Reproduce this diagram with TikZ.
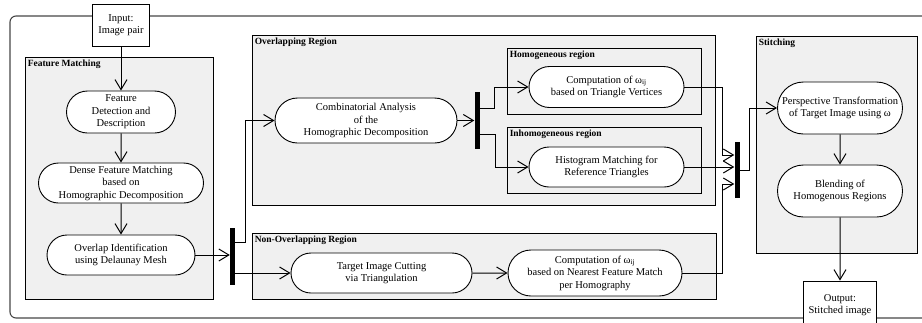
\documentclass[tikz,border=0pt]{standalone}
\usepackage{fontspec}
\setmainfont{Liberation Serif}
\definecolor{regiongray}{RGB}{240,240,240}
\definecolor{framegray}{RGB}{70,70,70}
\usetikzlibrary{arrows.meta, shapes.misc}

\begin{document}
\begin{tikzpicture}[
  x=1pt, y=-1pt,
  region/.style={draw, fill=regiongray, line width=0.9pt, inner sep=0pt},
  regionlabel/.style={anchor=north west, inner sep=3pt, font=\fontsize{9.5}{11}\selectfont\bfseries},
  activity/.style={draw, rounded rectangle, fill=white, line width=0.9pt, inner sep=1pt, align=center, font=\fontsize{10.5}{12.5}\selectfont},
  iobox/.style={draw, fill=white, line width=0.9pt, inner sep=1pt, align=center, font=\fontsize{10.5}{12.5}\selectfont},
  fork/.style={fill=black, minimum width=5pt, inner sep=0pt},
  arrow/.style={-{Straight Barb[length=10pt, width=12pt]}, line width=1pt}
]
  \useasboundingbox (0,0) rectangle (922,322);
  \clip (0,0) rectangle (922,322);

  % Outer frame (runs past the right edge)
  \draw[framegray, line width=1.1pt, rounded corners=6pt] (10,16) rectangle (940,318);

  % Input and output boxes
  \node[iobox, minimum width=57, minimum height=42] (input) at (121,25) {Input:\\Image pair};
  \node[iobox, minimum width=73, minimum height=48] (output) at (840,305) {Output:\\Stitched image};

  % Regions
  \node[region, minimum width=188, minimum height=242] (fmreg) at (119,178) {};
  \node[regionlabel] at (fmreg.north west) {Feature Matching};
  \node[region, minimum width=463, minimum height=170] (ovreg) at (483.5,120) {};
  \node[regionlabel] at (ovreg.north west) {Overlapping Region};
  \node[region, minimum width=194, minimum height=66] (homreg) at (604,81) {};
  \node[regionlabel] at (homreg.north west) {Homogeneous region};
  \node[region, minimum width=194, minimum height=66] (inhreg) at (604,160) {};
  \node[regionlabel] at (inhreg.north west) {Inhomogeneous region};
  \node[region, minimum width=464, minimum height=66] (novreg) at (484,266) {};
  \node[regionlabel] at (novreg.north west) {Non-Overlapping Region};
  \node[region, minimum width=161, minimum height=217] (streg) at (836.5,144.5) {};
  \node[regionlabel] at (streg.north west) {Stitching};

  % Feature matching steps
  \node[activity, minimum width=111, minimum height=42] (fd) at (121,112) {Feature\\Detection and\\Description};
  \node[activity, minimum width=167, minimum height=40] (dense) at (121,183) {Dense Feature Matching\\based on\\Homographic Decomposition};
  \node[activity, minimum width=150, minimum height=40] (ovl) at (121,255) {Overlap Identification\\using Delaunay Mesh};
  \node[fork, minimum height=57] (bar1) at (232.5,256.5) {};

  % Overlapping region
  \node[activity, minimum width=184, minimum height=45] (comb) at (366,120.5) {Combinatorial Analysis\\of the\\Homographic Decomposition};
  \node[fork, minimum height=57] (bar2) at (477,120.5) {};
  \node[activity, minimum width=157, minimum height=41] (hom) at (606.5,87) {Computation of ω\textsubscript{ij}\\based on Triangle Vertices};
  \node[activity, minimum width=157, minimum height=40] (hist) at (606.5,167) {Histogram Matching for\\Reference Triangles};

  % Non-overlapping region
  \node[activity, minimum width=183, minimum height=40] (cut) at (381.5,273) {Target Image Cutting\\via Triangulation};
  \node[activity, minimum width=176, minimum height=46] (nn) at (595,273) {Computation of ω\textsubscript{ij}\\based on Nearest Feature Match\\per Homography};

  % Stitching
  \node[fork, minimum height=56] (bar3) at (737,170) {};
  \node[activity, minimum width=127, minimum height=52] (persp) at (840,108) {Perspective Transformation\\of Target Image using ω};
  \node[activity, minimum width=127, minimum height=52] (blend) at (840,191) {Blending of\\Homogenous Regions};

  % Flow
  \draw[arrow] (input) -- (fd);
  \draw[arrow] (fd) -- (dense);
  \draw[arrow] (dense) -- (ovl);
  \draw[arrow] (ovl.east) -- (ovl.east -| bar1.west);
  \draw[arrow] ([yshift=14.5pt]bar1.east) -- ++(10.5,0) |- (comb.west);
  \draw[arrow] (bar1.east |- cut.west) -- (cut.west);
  \draw[arrow] (comb.east) -- (bar2.west);
  \draw[arrow] ([yshift=12.5pt]bar2.east) -- ++(15,0) |- (hom.west);
  \draw[arrow] ([yshift=-13.5pt]bar2.east) -- ++(16,0) |- (hist.west);
  \draw[arrow] (cut) -- (nn);
  \draw[arrow] (hom.east) -- ++(38,0) |- ([yshift=15pt]bar3.west);
  \draw[arrow] (hist.east) -- (hist.east -| bar3.west);
  \draw[arrow] (nn.east) -- ++(40,0) |- ([yshift=-14pt]bar3.west);
  \draw[arrow] (bar3.east) -- ++(10,0) |- (persp.west);
  \draw[arrow] (persp) -- (blend);
  \draw[arrow] (blend) -- (output);
\end{tikzpicture}
\end{document}
